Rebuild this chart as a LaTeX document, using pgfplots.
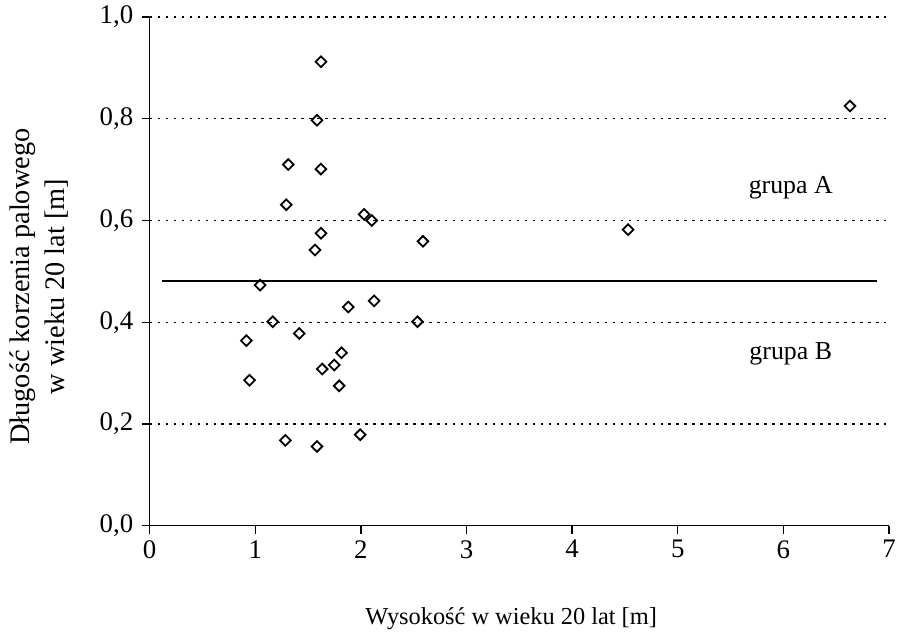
\documentclass[border=0pt]{standalone}
\usepackage{pgfplots}
\pgfplotsset{compat=1.18}
\usepackage{fontspec}
\setmainfont{Liberation Serif}

\begin{document}
\begin{tikzpicture}[font=\fontsize{25}{29}\selectfont]
\begin{axis}[
  width=741bp, height=510bp, scale only axis,
  xmin=0, xmax=7, ymin=0, ymax=1,
  axis lines*=left,
  axis line style={line width=1.3pt},
  tick align=outside,
  major tick length=8bp,
  tick style={black, line width=1.3pt},
  xtick={0,1,...,7},
  ytick={0,0.2,...,1.0},
  /pgf/number format/assume math mode=true,
  ticklabel style={font=\fontsize{27}{31}\selectfont},
  yticklabel style={xshift=-5bp, /pgf/number format/.cd, fixed, fixed zerofill, precision=1, use comma},
  xticklabel style={yshift=-3bp},
  ymajorgrids=true,
  grid style={black, line width=1.3pt, dash pattern=on 2.5bp off 5.5bp},
  clip=false,
  xlabel={Wysokość w wieku 20 lat [m]},
  xlabel style={font=\fontsize{24.5}{28}\selectfont, at={(axis description cs:0.489,-0.182)}, anchor=center},
  ylabel={Długość korzenia palowego\\w wieku 20 lat [m]},
  ylabel style={font=\fontsize{28.5}{35}\selectfont, at={(axis description cs:-0.150,0.47)}, anchor=center, align=center},
]
\addplot[black, line width=1.2pt] coordinates {(0.12,0.481) (6.89,0.481)};

\addplot[only marks, mark=square, mark size=3.8bp,
  mark options={black, rotate=45, line width=1.8bp, fill=white}] coordinates {
  (1.622,0.912) (1.584,0.797) (1.313,0.710) (1.622,0.701) (1.294,0.631)
  (2.031,0.612) (2.103,0.600) (1.622,0.575) (1.565,0.542) (2.588,0.559)
  (4.53,0.582) (6.63,0.825)
  (1.046,0.473) (1.165,0.401) (0.916,0.364) (0.945,0.286) (1.417,0.378)
  (1.880,0.430) (2.125,0.442) (2.535,0.401) (1.817,0.340) (1.748,0.316)
  (1.634,0.308) (1.795,0.275) (1.285,0.168) (1.584,0.156) (1.993,0.179)
};

\node[font=\fontsize{26}{30}\selectfont] at (axis cs:6.07,0.665) {grupa A};
\node[font=\fontsize{26}{30}\selectfont] at (axis cs:6.07,0.337) {grupa B};
\end{axis}
\path (current axis.south west) ++(-150bp,-116bp) coordinate (bbsw);
\path (current axis.north east) ++(8bp,17bp) coordinate (bbne);
\path (bbsw) rectangle (bbne);
\end{tikzpicture}
\end{document}
